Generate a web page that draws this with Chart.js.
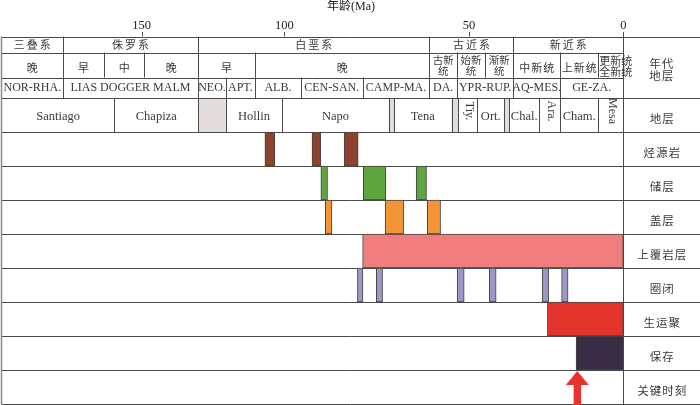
<!DOCTYPE html>
<html><head><meta charset="utf-8">
<script src="https://cdn.jsdelivr.net/npm/chart.js@4.4.1/dist/chart.umd.min.js"></script>
<style>html,body{margin:0;padding:0;background:#fff;}canvas{display:block;}</style>
</head><body>
<canvas id="c" width="700" height="405"></canvas>
<script>
// ---------------- data ----------------
const ROW_LABELS = ['地层','烃源岩','储层','盖层','上覆岩层','圈闭','生运聚','保存','关键时刻'];
const AGE_TICKS = [150, 100, 50, 0];

const SYSTEM_BOUNDS = [199, 177.7, 130.2, 60.7, 35.6, 0];
const SYSTEM_NAMES = ['三叠系','侏罗系','白垩系','古近系','新近系'];
const SERIES_BOUNDS = [199, 177.7, 163.2, 149.1, 130.2, 110.3, 60.7, 53.3, 44.8, 35.6, 20.5, 8.1, 0];
const SERIES_NAMES = ['晚','早','中','晚','早','晚','古新|统','始新|统','渐新|统','中新统','上新统','更新统|全新统'];
const STAGE_BOUNDS = [199, 177.7, 130.2, 120.5, 110.3, 95.5, 78.8, 60.7, 53.3, 35.6, 20.5, 0];
const STAGE_NAMES = ['NOR-RHA.','LIAS DOGGER MALM','NEO.','APT.','ALB.','CEN-SAN.','CAMP-MA.','DA.','YPR-RUP.','AQ-MES.','GE-ZA.'];
const FORMATION_BOUNDS = [199, 159.6, 130.2, 120.5, 100.7, 71.7, 70.3, 54.7, 52.9, 47.3, 38.6, 37.0, 27.2, 20.5, 8.1, 0];
const FORMATION_NAMES = ['Santiago','Chapiza','','Hollin','Napo','','Tena','','Tiy.','Ort.','','Chal.','Ara.','Cham.','Mesa'];

const SOURCE_ROCK  = [[106.8,103.3],[92.5,90.1],[83.8,80.0]];
const RESERVOIR    = [[90.1,88.3],[78.6,72.5],[64.3,61.5]];
const SEAL         = [[88.9,87.1],[72.7,67.7],[61.3,57.7]];
const OVERBURDEN   = [[78.8,0]];
const TRAP         = [[80.2,78.7],[75.1,73.4],[53.2,51.3],[43.4,41.2],[26.3,24.2],[20.0,17.9]];
const GENERATION   = [[24.6,0]];
const PRESERVATION = [[15.3,0]];
const CRITICAL_MOMENT = 14.9;

// ------------- piecewise age axis (schematic, non-linear time scale) -------------
const KNOT_AGES = [199, 150, 100, 50, 0, -24.85];
const KNOT_FRACS = [0, 0.20014, 0.40444, 0.66905, 0.89011, 1];
function ageToFrac(v) {
  const a = KNOT_AGES, f = KNOT_FRACS, n = a.length - 1;
  let i = 0;
  if (v <= a[n]) i = n - 1;
  else { while (i < n - 1 && v < a[i + 1]) i++; }
  return f[i] + (v - a[i]) * (f[i + 1] - f[i]) / (a[i + 1] - a[i]);
}
function fracToAge(t) {
  const a = KNOT_AGES, f = KNOT_FRACS, n = f.length - 1;
  let i = 0;
  if (t >= f[n]) i = n - 1;
  else { while (i < n - 1 && t > f[i + 1]) i++; }
  return a[i] + (t - f[i]) * (a[i + 1] - a[i]) / (f[i + 1] - f[i]);
}
class AgeScale extends Chart.LinearScale {
  getPixelForValue(value) {
    if (value === null || value === undefined || isNaN(value)) return NaN;
    return this.getPixelForDecimal(ageToFrac(value));
  }
  getValueForPixel(pixel) {
    return fracToAge(this.getDecimalForPixel(pixel));
  }
}
AgeScale.id = 'age';
AgeScale.defaults = Chart.LinearScale.defaults;
Chart.register(AgeScale);

// ---------------- styles ----------------
const LINE = '#4a4a4a', TEXT = '#3a3a3a', HIATUS = '#e2dcda';
const CJK = '"Noto Sans CJK SC"';
const SERIF = '"Liberation Serif"';
const VERTICAL_NAMES = ['Tiy.', 'Ara.', 'Mesa'];

function barSet(label, row, spans, color) {
  return {
    label, data: spans.map(s => ({ x: s, y: row })),
    backgroundColor: color, borderColor: '#454545', borderWidth: 1,
    borderSkipped: false, grouped: false, barPercentage: 1, categoryPercentage: 1
  };
}

const tablePlugin = {
  id: 'eventTable',
  beforeDatasetsDraw(chart) {
    const { ctx, chartArea: ca, scales: { x, y } } = chart;
    const X = v => x.getPixelForValue(v);
    const W = chart.width, xl = 1.5, x0 = X(0);
    const yTop = 36.5, y1 = 52.5, y2 = 77.5, y3 = ca.top;
    const band = y.getPixelForValue(1) - y.getPixelForValue(0);
    const px = v => Math.round(v) + 0.5;

    function hline(yy, a, b) { ctx.beginPath(); ctx.moveTo(a, px(yy)); ctx.lineTo(b, px(yy)); ctx.stroke(); }
    function vline(xx, a, b) { ctx.beginPath(); ctx.moveTo(px(xx), a); ctx.lineTo(px(xx), b); ctx.stroke(); }
    function txt(s, cx, cy, font, o = {}) {
      ctx.save();
      ctx.font = font; ctx.fillStyle = TEXT;
      ctx.textAlign = o.align || 'center'; ctx.textBaseline = 'middle';
      if (o.ls) ctx.letterSpacing = o.ls;
      if (o.rot) { ctx.translate(cx, cy); ctx.rotate(o.rot); ctx.fillText(s, 0, 0); }
      else ctx.fillText(s, cx, cy);
      ctx.restore();
    }

    ctx.save();
    // hiatus fills in formation row
    FORMATION_NAMES.forEach((n, i) => {
      if (n === '') {
        const a = X(FORMATION_BOUNDS[i]), b = X(FORMATION_BOUNDS[i + 1]);
        ctx.fillStyle = HIATUS;
        ctx.fillRect(a, y3, b - a, band);
      }
    });

    ctx.strokeStyle = LINE; ctx.lineWidth = 1;
    // horizontal lines
    hline(yTop, xl, W);
    hline(y1, xl, x0);
    hline(y2, xl, x0);
    hline(y3, xl, W);
    for (let i = 0; i < ROW_LABELS.length; i++) hline(y.getPixelForValue(i) + band / 2, xl, W);

    // tick marks and zero line
    AGE_TICKS.forEach(v => { if (v !== 0) vline(X(v), 32, yTop); });
    vline(x0, 32, ca.bottom);

    // cell boundaries
    const rows = [
      [SYSTEM_BOUNDS, yTop, y1], [SERIES_BOUNDS, y1, y2], [STAGE_BOUNDS, y2, y3],
      [FORMATION_BOUNDS, y3, y3 + band]
    ];
    rows.forEach(([bounds, a, b]) => {
      for (let i = 1; i < bounds.length - 1; i++) vline(X(bounds[i]), a, b);
    });

    // left border
    ctx.strokeStyle = '#8a8a8a'; ctx.lineWidth = 1.5;
    ctx.beginPath(); ctx.moveTo(xl, yTop); ctx.lineTo(xl, ca.bottom); ctx.stroke();

    // texts: system row
    SYSTEM_NAMES.forEach((n, i) => {
      const c = (X(SYSTEM_BOUNDS[i]) + X(SYSTEM_BOUNDS[i + 1])) / 2;
      txt(n, c + 1, 45, '11px ' + CJK, { ls: '2px' });
    });
    // series row
    SERIES_NAMES.forEach((n, i) => {
      const a = X(SERIES_BOUNDS[i]), b = X(SERIES_BOUNDS[i + 1]);
      const c = (a + b) / 2;
      if (n.includes('|')) {
        const [l1, l2] = n.split('|');
        if (l2.length === 3) {
          txt(l1, a + 1, 60.5, '11px ' + CJK, { align: 'left' });
          txt(l2, a + 1, 71.5, '11px ' + CJK, { align: 'left' });
        } else {
          txt(l1, c, 60.5, '10.5px ' + CJK);
          txt(l2, c, 71.5, '10.5px ' + CJK);
        }
      } else {
        txt(n, c + 0.5, 68, '11px ' + CJK, { ls: '1px' });
      }
    });
    // stage row
    STAGE_NAMES.forEach((n, i) => {
      const c = (X(STAGE_BOUNDS[i]) + X(STAGE_BOUNDS[i + 1])) / 2;
      txt(n, c, 88, '12px ' + SERIF);
    });
    // formation row
    FORMATION_NAMES.forEach((n, i) => {
      if (!n) return;
      const c = (X(FORMATION_BOUNDS[i]) + X(FORMATION_BOUNDS[i + 1])) / 2;
      if (VERTICAL_NAMES.includes(n)) txt(n, c + 1, 111, '12px ' + SERIF, { rot: Math.PI / 2 });
      else txt(n, c, 117, '12.5px ' + SERIF);
    });

    // right column labels
    const cx = (x0 + W) / 2;
    txt('年代', cx, 64, '11.5px ' + CJK, { ls: '1px' });
    txt('地层', cx, 76, '11.5px ' + CJK, { ls: '1px' });
    ROW_LABELS.forEach((n, i) => {
      txt(n, cx + 0.5, y.getPixelForValue(i) + 4, '11.5px ' + CJK, { ls: '1px' });
    });
    ctx.restore();
  },
  afterDatasetsDraw(chart) {
    const { ctx, scales: { x, y } } = chart;
    const band = y.getPixelForValue(1) - y.getPixelForValue(0);
    const ax = x.getPixelForValue(CRITICAL_MOMENT);
    const top = y.getPixelForValue(ROW_LABELS.length - 1) - band / 2 + 1;
    const bottom = chart.chartArea.bottom + 2;
    ctx.save();
    ctx.fillStyle = '#e8322b';
    ctx.beginPath();
    ctx.moveTo(ax, top);
    ctx.lineTo(ax + 11.5, top + 14);
    ctx.lineTo(ax + 3.7, top + 14);
    ctx.lineTo(ax + 3.7, bottom);
    ctx.lineTo(ax - 3.7, bottom);
    ctx.lineTo(ax - 3.7, top + 14);
    ctx.lineTo(ax - 11.5, top + 14);
    ctx.closePath();
    ctx.fill();
    ctx.restore();
  }
};

new Chart(document.getElementById('c'), {
  type: 'bar',
  data: {
    labels: ROW_LABELS,
    datasets: [
      barSet('烃源岩', '烃源岩', SOURCE_ROCK, '#8b4330'),
      barSet('储层', '储层', RESERVOIR, '#5ea53d'),
      barSet('盖层', '盖层', SEAL, '#f39437'),
      barSet('上覆岩层', '上覆岩层', OVERBURDEN, '#f07d7d'),
      barSet('圈闭', '圈闭', TRAP, '#9c97c8'),
      barSet('生运聚', '生运聚', GENERATION, '#e3332d'),
      barSet('保存', '保存', PRESERVATION, '#3b2c45')
    ]
  },
  options: {
    indexAxis: 'y',
    responsive: false,
    animation: false,
    layout: { padding: { left: 2, right: 0, top: 0, bottom: 1 } },
    plugins: { legend: { display: false }, tooltip: { enabled: false } },
    scales: {
      x: {
        type: 'age', position: 'top', min: -24.85, max: 199,
        grid: { display: false }, border: { display: false },
        afterFit: s => { s.height = 98; },
        afterBuildTicks: s => { s.ticks = AGE_TICKS.map(v => ({ value: v })); },
        ticks: {
          padding: 56.5, maxRotation: 0, autoSkip: false, color: '#222',
          font: { family: 'Liberation Serif', size: 12.5 },
          callback: v => String(v)
        },
        title: {
          display: true, text: '年龄(Ma)', color: '#222', padding: { top: 0, bottom: 0 },
          font: { family: 'Liberation Serif, "Noto Sans CJK SC"', size: 12 }
        }
      },
      y: { type: 'category', display: false, offset: true }
    }
  },
  plugins: [tablePlugin]
});
</script>
</body></html>
